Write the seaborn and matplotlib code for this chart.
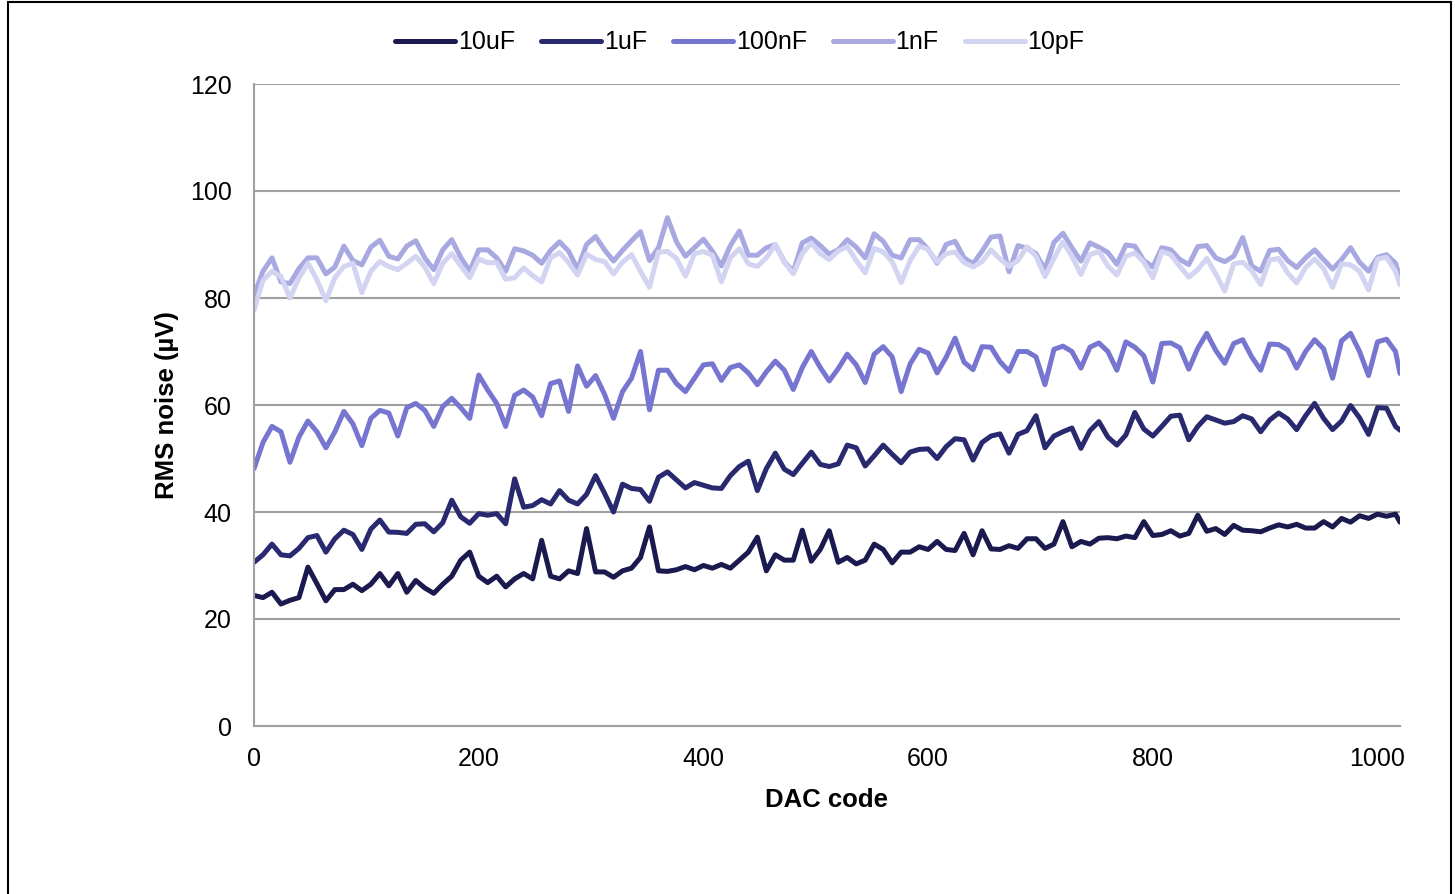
import matplotlib
matplotlib.use("Agg")
import matplotlib.pyplot as plt
from matplotlib.patches import Rectangle
import pandas as pd
import seaborn as sns

# DAC codes, one sample every 8 codes plus the last code
dac_codes = list(range(0, 1017, 8)) + [1020]

series_names = ["10uF", "1uF", "100nF", "1nF", "10pF"]
series_colors = ["#1b1a4f", "#29296f", "#7676d0", "#a9a9e2", "#d3d3f2"]

noise_10uF = [
    24.4, 24.0, 25.0, 22.8, 23.5, 24.0, 29.7, 26.6, 23.4, 25.5,
    25.5, 26.5, 25.3, 26.5, 28.5, 26.2, 28.5, 25.0, 27.2, 25.8,
    24.8, 26.5, 28.0, 31.0, 32.5, 28.0, 26.8, 28.0, 26.0, 27.5,
    28.5, 27.5, 34.7, 28.0, 27.5, 29.0, 28.5, 36.9, 28.8, 28.8,
    27.8, 29.0, 29.5, 31.5, 37.2, 29.0, 28.9, 29.2, 29.8, 29.2,
    30.0, 29.5, 30.2, 29.5, 31.0, 32.5, 35.3, 29.0, 32.0, 31.0,
    31.0, 36.6, 30.8, 33.0, 36.5, 30.6, 31.5, 30.3, 31.0, 34.0,
    33.0, 30.5, 32.5, 32.5, 33.5, 33.0, 34.5, 33.0, 32.8, 36.0,
    32.0, 36.5, 33.1, 33.0, 33.7, 33.2, 35.0, 35.0, 33.2, 34.0,
    38.2, 33.5, 34.5, 34.0, 35.1, 35.2, 35.0, 35.5, 35.2, 38.2,
    35.6, 35.8, 36.5, 35.5, 36.0, 39.4, 36.4, 36.9, 35.8, 37.5,
    36.6, 36.5, 36.3, 37.0, 37.6, 37.2, 37.7, 37.0, 37.0, 38.2,
    37.2, 38.8, 38.1, 39.3, 38.8, 39.6, 39.2, 39.6, 38.1]

noise_1uF = [
    30.6, 32.0, 34.0, 32.0, 31.8, 33.2, 35.2, 35.6, 32.5, 35.0,
    36.6, 35.8, 33.0, 36.8, 38.5, 36.25, 36.2, 36.0, 37.7, 37.8,
    36.3, 38.0, 42.2, 39.1, 37.9, 39.7, 39.4, 39.7, 37.8, 46.2,
    40.9, 41.2, 42.3, 41.5, 44.0, 42.2, 41.5, 43.3, 46.8, 43.5,
    40.0, 45.2, 44.4, 44.2, 42.0, 46.5, 47.5, 46.0, 44.5, 45.5,
    45.0, 44.5, 44.4, 46.8, 48.5, 49.5, 44.0, 48.1, 51.0, 48.0,
    47.0, 49.1, 51.2, 48.9, 48.5, 49.0, 52.5, 52.0, 48.6, 50.5,
    52.5, 50.8, 49.2, 51.2, 51.7, 51.8, 50.0, 52.2, 53.7, 53.5,
    49.7, 53.0, 54.2, 54.6, 51.0, 54.5, 55.2, 58.0, 52.0, 54.2,
    55.0, 55.7, 51.9, 55.2, 56.9, 54.0, 52.5, 54.4, 58.6, 55.5,
    54.2, 56.0, 57.9, 58.1, 53.5, 56.0, 57.8, 57.2, 56.6, 56.9,
    58.0, 57.4, 55.0, 57.2, 58.5, 57.4, 55.4, 58.0, 60.3, 57.5,
    55.4, 57.0, 59.9, 57.6, 54.5, 59.5, 59.4, 56.0, 55.3]

noise_100nF = [
    48.1, 53.0, 56.0, 55.0, 49.3, 54.0, 57.0, 55.0, 52.0, 55.0,
    58.8, 56.5, 52.4, 57.5, 59.0, 58.5, 54.2, 59.5, 60.3, 59.0,
    56.0, 59.7, 61.25, 59.5, 57.5, 65.6, 62.8, 60.3, 56.0, 61.8,
    62.8, 61.5, 58.0, 64.0, 64.5, 58.8, 67.3, 63.5, 65.5, 62.0,
    57.5, 62.5, 65.0, 70.0, 59.1, 66.5, 66.5, 64.0, 62.5, 65.0,
    67.5, 67.7, 64.6, 67.0, 67.5, 66.0, 63.8, 66.2, 68.2, 66.5,
    62.9, 67.0, 70.0, 67.0, 64.5, 66.8, 69.5, 67.5, 64.2, 69.5,
    70.9, 69.0, 62.5, 67.7, 70.4, 69.7, 66.0, 68.9, 72.5, 68.0,
    66.6, 70.9, 70.8, 68.1, 66.3, 70.0, 70.0, 69.0, 63.8, 70.4,
    71.0, 70.0, 66.9, 70.8, 71.6, 70.0, 66.5, 71.8, 70.8, 69.2,
    64.3, 71.5, 71.6, 70.7, 66.7, 70.6, 73.4, 70.2, 67.8, 71.5,
    72.2, 69.0, 66.5, 71.4, 71.3, 70.3, 66.9, 70.0, 72.2, 70.5,
    65.0, 72.0, 73.4, 70.0, 65.5, 71.8, 72.3, 70.0, 65.9]

noise_1nF = [
    80.5, 85.0, 87.5, 83.0, 82.7, 85.5, 87.5, 87.5, 84.5, 85.8,
    89.7, 87.0, 86.2, 89.5, 90.8, 87.8, 87.3, 89.7, 90.7, 87.5,
    85.3, 89.0, 90.9, 87.6, 85.0, 89.0, 89.0, 87.5, 85.0, 89.2,
    88.8, 88.0, 86.5, 88.9, 90.5, 88.75, 85.4, 90.0, 91.5, 89.0,
    86.9, 88.9, 90.7, 92.4, 87.0, 89.4, 95.0, 90.5, 87.8, 89.4,
    91.0, 88.75, 86.0, 89.8, 92.5, 88.0, 88.0, 89.4, 90.0, 86.8,
    84.9, 90.3, 91.2, 89.8, 88.2, 89.0, 90.9, 89.5, 87.5, 92.0,
    90.6, 88.0, 87.5, 90.9, 90.9, 89.1, 86.5, 90.0, 90.6, 87.5,
    86.4, 88.75, 91.4, 91.6, 84.9, 89.8, 89.3, 88.3, 85.3, 90.4,
    92.1, 89.4, 86.9, 90.3, 89.5, 88.5, 86.3, 89.9, 89.7, 87.0,
    85.8, 89.4, 89.0, 87.2, 86.25, 89.6, 89.8, 87.5, 86.8, 87.8,
    91.3, 86.0, 85.0, 88.9, 89.1, 87.0, 85.7, 87.5, 89.0, 87.2,
    85.4, 87.2, 89.4, 86.7, 85.0, 87.6, 88.1, 86.5, 83.7]

noise_10pF = [
    77.7, 83.3, 85.0, 84.0, 80.0, 83.7, 86.5, 83.4, 79.5, 83.8,
    85.9, 86.5, 81.0, 85.0, 86.8, 85.9, 85.3, 86.5, 87.8, 85.8,
    82.7, 86.5, 88.3, 86.0, 83.8, 87.3, 86.6, 86.6, 83.5, 83.8,
    85.6, 84.2, 83.0, 87.5, 88.5, 86.6, 84.3, 88.2, 87.2, 86.8,
    84.5, 86.7, 88.1, 85.0, 82.0, 88.6, 88.7, 87.4, 84.1, 88.3,
    88.7, 88.0, 83.0, 87.5, 89.2, 86.4, 85.9, 87.5, 90.0, 86.7,
    84.5, 88.3, 90.3, 88.3, 87.2, 88.8, 89.6, 87.0, 84.7, 89.3,
    88.6, 86.8, 82.9, 87.0, 89.7, 89.1, 86.7, 88.3, 88.6, 86.6,
    85.8, 86.8, 89.0, 87.3, 85.9, 87.0, 89.6, 87.8, 84.0, 87.4,
    90.5, 87.8, 84.4, 88.1, 88.7, 86.0, 84.3, 87.8, 88.4, 86.7,
    83.8, 88.7, 88.1, 85.9, 83.9, 85.3, 87.4, 84.5, 81.3, 86.4,
    86.7, 85.1, 82.5, 87.1, 87.4, 84.7, 82.8, 85.7, 87.3, 85.5,
    82.0, 86.4, 86.2, 85.0, 81.5, 87.3, 87.6, 85.0, 82.5]

all_series = [noise_10uF, noise_1uF, noise_100nF, noise_1nF, noise_10pF]

sns.set_style("white")
plt.rcParams['font.family'] = ['Liberation Sans', 'DejaVu Sans']
plt.rcParams['text.color'] = 'black'
plt.rcParams['axes.labelcolor'] = 'black'

fig = plt.figure(figsize=(14.55, 8.94), dpi=100)
ax = fig.add_axes([254 / 1455, 1 - 726 / 894, (1400 - 254) / 1455, (726 - 84) / 894])

for name, col, vals in zip(series_names, series_colors, all_series):
    df = pd.DataFrame({"dac": dac_codes, "noise": vals})
    sns.lineplot(data=df, x="dac", y="noise", color=col, linewidth=3.6,
                 label=name, ax=ax)

ax.set_xlim(0, 1020)
ax.set_ylim(0, 120)
ax.set_xticks([0, 200, 400, 600, 800, 1000])
ax.set_yticks([0, 20, 40, 60, 80, 100, 120])
ax.yaxis.grid(True, color="#a0a0a0", linewidth=1.5)
ax.set_axisbelow(True)
for side in ["top", "right"]:
    ax.spines[side].set_visible(False)
for side in ["left", "bottom"]:
    ax.spines[side].set_color("#a0a0a0")
    ax.spines[side].set_linewidth(1.5)
ax.tick_params(axis="both", direction="out", length=5, width=1.2,
               color="#a0a0a0", labelsize=18, labelcolor="black")
ax.tick_params(axis="y", pad=11)
ax.tick_params(axis="x", pad=10)

ax.set_xlabel("DAC code", fontsize=18.5, fontweight="bold", labelpad=12)
ax.set_ylabel("RMS noise (µV)", fontsize=18.5, fontweight="bold", labelpad=8)

ax.legend(loc="center", bbox_to_anchor=(0.424, 1.065), ncol=5, frameon=False,
          fontsize=18, handlelength=2.4, handletextpad=0.1, columnspacing=1.05)

fig.patches.append(Rectangle((8 / 1455, -0.01), 1443 / 1455, 1 - 2 / 894 + 0.01,
                             transform=fig.transFigure, fill=False,
                             edgecolor="black", linewidth=1.5))

fig.savefig("out.png", dpi=100)
